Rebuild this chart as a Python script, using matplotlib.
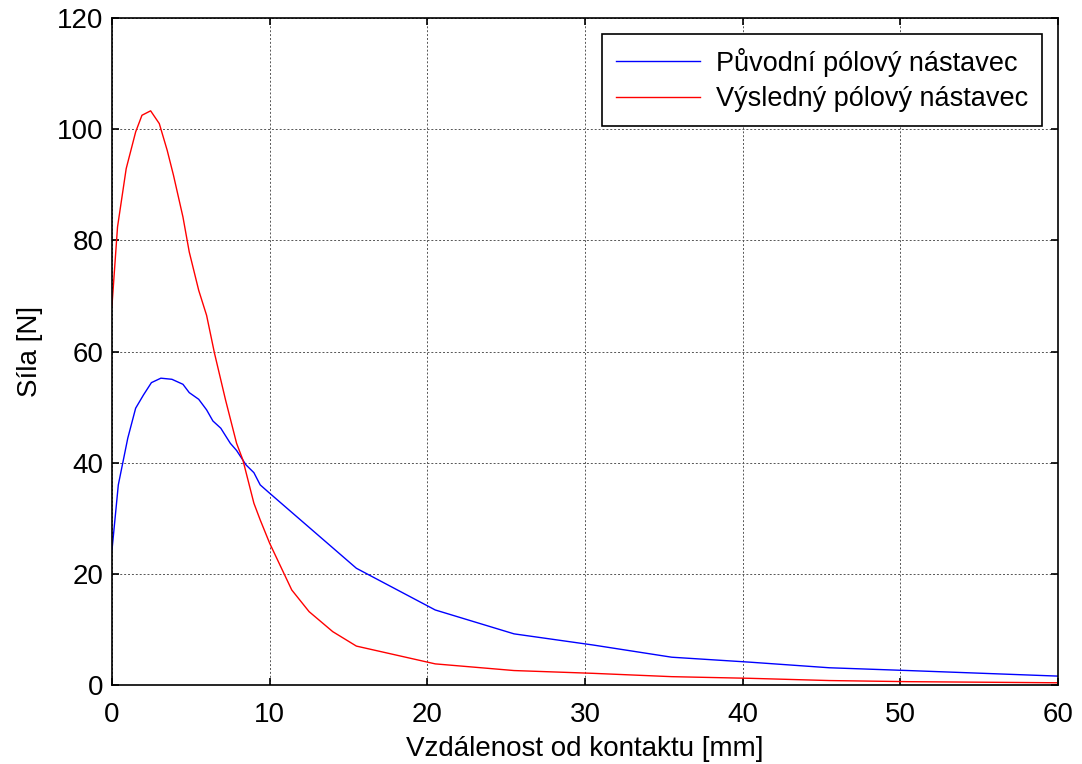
import matplotlib.pyplot as plt
import numpy as np

plt.rcParams['font.family'] = ['Liberation Sans', 'DejaVu Sans']

# vzdalenost [mm] a sila [N] - puvodni polovy nastavec
x_puv = [0, 0.4, 0.7, 1.0, 1.5, 2.0, 2.5, 3.1, 3.8, 4.5, 4.9, 5.5, 6.0, 6.4,
         6.9, 7.5, 7.9, 8.5, 9.0, 9.4, 10.0, 15.5, 20.5, 25.5, 30.5, 35.5,
         40.5, 45.5, 50.5, 60]
f_puv = [24.3, 36, 40.2, 44.4, 49.8, 52.2, 54.4, 55.2, 55.0, 54.1, 52.6, 51.4,
         49.5, 47.5, 46.2, 43.5, 42.2, 39.6, 38.2, 36.0, 34.5, 21.0, 13.5, 9.2,
         7.2, 5.0, 4.1, 3.1, 2.6, 1.6]

# vysledny polovy nastavec
x_vys = [0, 0.35, 0.9, 1.5, 1.9, 2.45, 3.0, 3.5, 3.9, 4.5, 4.9, 5.5, 6.0, 6.5,
         7.2, 7.9, 8.3, 9.0, 9.4, 10.0, 11.4, 12.5, 14.0, 15.5, 20.5, 25.5,
         30.5, 35.5, 40.5, 45.5, 50.5, 60]
f_vys = [68.3, 82.4, 92.9, 99.5, 102.5, 103.3, 101.0, 96.2, 91.7, 84.2, 77.9,
         71.0, 66.5, 59.7, 51.3, 43.5, 40.5, 32.7, 29.7, 25.5, 17.1, 13.2, 9.6,
         7.0, 3.8, 2.6, 2.1, 1.5, 1.2, 0.8, 0.6, 0.4]

fig = plt.figure(figsize=(10.82, 7.64), dpi=100)
ax = fig.add_axes([112/1082, 1-685/764, 946/1082, 667/764])

ax.plot(x_puv, f_puv, color='#0000ff', lw=1.0, label='Původní pólový nástavec')
ax.plot(x_vys, f_vys, color='#ff0000', lw=1.0, label='Výsledný pólový nástavec')

ax.set_xlim(0, 60)
ax.set_ylim(0, 120)
ax.set_xticks(np.arange(0, 61, 10))
ax.set_yticks(np.arange(0, 121, 20))
ax.tick_params(direction='in', top=True, right=True, labelsize=20, length=5,
               width=1.2)
ax.tick_params(axis='x', pad=12)
ax.tick_params(axis='y', pad=6)
ax.grid(True, color='#555555', linestyle=(0, (2, 2)), lw=0.7)
for s in ax.spines.values():
    s.set_linewidth(1.2)

ax.set_xlabel('Vzdálenost od kontaktu [mm]', fontsize=20, labelpad=6)
ax.set_ylabel('Síla [N]', fontsize=20, labelpad=10)

leg = ax.legend(loc='upper right', fontsize=19.5, fancybox=False, edgecolor='black',
                framealpha=1, borderaxespad=0.6, handlelength=3.1, handletextpad=0.6,
                borderpad=0.5, labelspacing=0.35)
leg.get_frame().set_linewidth(1.2)

fig.savefig('out.png', dpi=100)
